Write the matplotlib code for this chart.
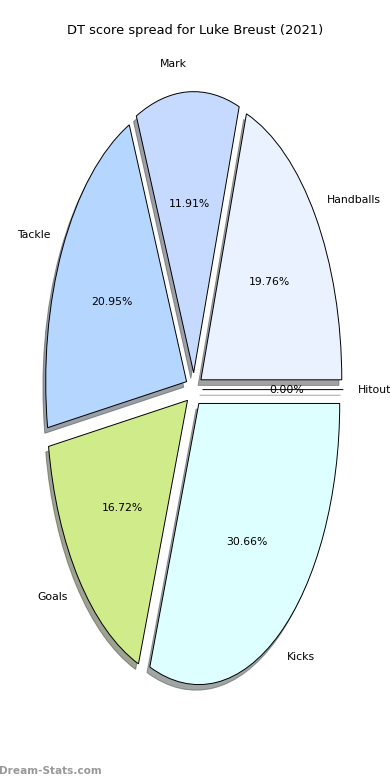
import matplotlib
matplotlib.use("Agg")
import matplotlib.pyplot as plt

labels = ["Handballs", "Mark", "Tackle", "Goals", "Kicks", "Hitout"]
values = [19.76, 11.91, 20.95, 16.72, 30.66, 0.0]
colors = ["#EAF1FF", "#C6D9FF", "#B4D6FF", "#D0EC8A", "#DDFFFF", "#F0F0F0"]
explode = [0.06] * 6

fig = plt.figure(figsize=(3.9, 7.8), dpi=100)
ax = fig.add_axes([0.046, 0.05, 0.903, 0.901])
wedges, texts, autotexts = ax.pie(
    values, labels=labels, colors=colors, explode=explode,
    shadow={"ox": -0.0144, "oy": -0.0144},
    autopct="%1.2f%%", startangle=0, counterclock=True,
    wedgeprops=dict(edgecolor="black", linewidth=0.7),
    textprops=dict(fontsize=7.8),
)
ax.set_aspect("auto")
ax.set_xlim(-1.25, 1.25)
ax.set_ylim(-1.25, 1.25)
fig.text(0.5, 0.961, "DT score spread for Luke Breust (2021)", ha="center", va="center", fontsize=9.4)
fig.text(-0.003, 0.012, "Dream-Stats.com", ha="left", va="center", fontsize=7.6,
         color="#999999", fontweight="bold")
fig.savefig("out.png", dpi=100)
